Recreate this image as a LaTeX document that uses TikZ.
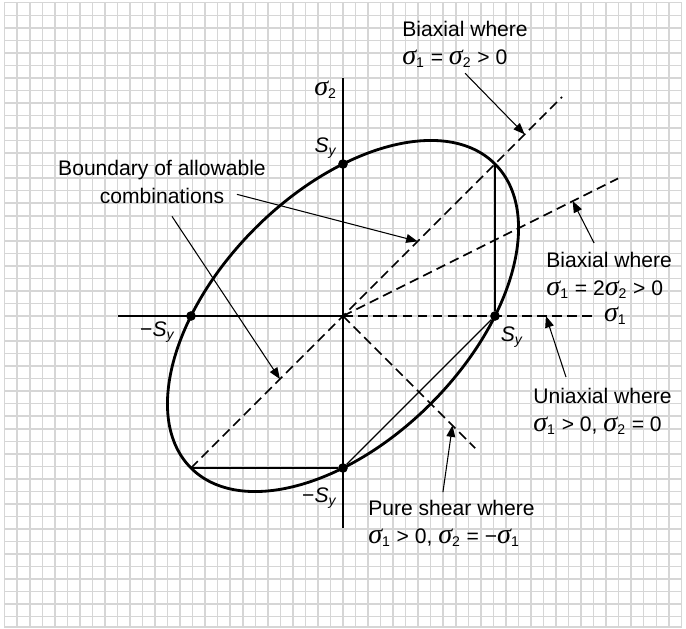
\documentclass[tikz,border=0pt]{standalone}
\usepackage{fontspec}
\setmainfont{Liberation Sans}
\newfontfamily\greekfont{Liberation Serif}
\usetikzlibrary{arrows.meta}
\newcommand{\sig}[1]{{\greekfont\itshape\fontsize{16}{16}\selectfont σ}\textsubscript{#1}}
\newcommand{\Sy}{\textit{S}\textsubscript{\textit{y}}}
\tikzset{
  gridln/.style={draw=black!16, line width=0.85pt},
  ax/.style={draw=black, line width=0.7pt},
  dsh/.style={draw=black, line width=0.9pt, dash pattern=on 5.5pt off 3pt},
  bdry/.style={draw=black, line width=1.6pt},
  edg/.style={draw=black, line width=1.1pt},
  lead/.style={draw=black, line width=0.6pt, -{Triangle[length=6.5pt,width=5pt]}},
  pt/.style={circle, fill=black, inner sep=0pt, minimum size=5.5pt},
  txt/.style={font=\fontsize{12}{16}\selectfont, inner sep=0pt, align=left},
  lbl/.style={font=\fontsize{12}{14}\selectfont, inner sep=1pt}
}

\begin{document}
\begin{tikzpicture}[x=3.04cm, y=3.04cm]
  % Graph paper
  \useasboundingbox (-6.86cm,-6.24cm) rectangle (6.86cm,6.32cm);
  \draw[gridln, step=0.2506cm] (-6.77cm,-6.22cm) grid (6.77cm,6.27cm);
  \draw[gridln] (-6.766cm,-6.22cm) rectangle (6.766cm,6.265cm);

  % Axes
  \coordinate (O) at (0,0);
  \coordinate (s1beg) at (-1.48,0);
  \coordinate (s1end) at (1.658,0);
  \coordinate (s2top) at (0,1.566);
  \coordinate (s2bot) at (0,-1.395);
  \draw[ax] (s1beg) -- (O);
  \draw[dsh] (O) -- (s1end);
  \draw[ax] (s2bot) -- (s2top);
  \node[lbl, anchor=west] (s1) at ([xshift=0.14cm]s1end) {\sig{1}};
  \node[lbl, anchor=north east] (s2) at ([xshift=-0.08cm,yshift=-0.02cm]s2top) {\sig{2}};

  % Yield points on the axes
  \node[pt, label={[lbl]above left:\Sy}] (syt) at (0,1) {};
  \node[pt, label={[lbl, xshift=-0.2cm]below left:−\Sy}] (syl) at (-1,0) {};
  \node[pt, label={[lbl, yshift=-0.1cm]below right:\Sy}] (syr) at (1,0) {};
  \node[pt, label={[lbl, yshift=-0.28cm]below left:−\Sy}] (syb) at (0,-1) {};

  % Boundary ellipse and edges
  \draw[bdry, rotate=45] (O) ellipse ({sqrt(2)} and {sqrt(2/3)});
  \coordinate (cA) at (1,1);
  \coordinate (cB) at (-1,-1);
  \draw[edg] (cA) -- (syr);
  \draw[edg] (cB) -- (syb);
  \draw[ax] (syb) -- (syr);

  % Load paths
  \coordinate (p11) at (1.441,1.441);
  \coordinate (p21) at (1.81,0.905);
  \coordinate (psh) at (0.87,-0.87);
  \draw[dsh] (cB) -- (p11);
  \draw[dsh] (O) -- (p21);
  \draw[dsh] (O) -- (psh);

  % Callout texts
  \node[txt, anchor=north west] (bax1) at (0.388,1.941) {Biaxial where\\\sig{1} = \sig{2} > 0};
  \node[txt, anchor=north west] (bax2) at (1.336,0.421) {Biaxial where\\\sig{1} = 2\sig{2} > 0};
  \node[txt, anchor=north west] (uni) at (1.25,-0.474) {Uniaxial where\\\sig{1} > 0, \sig{2} = 0};
  \node[txt, anchor=north west] (pshr) at (0.164,-1.211) {Pure shear where\\\sig{1} > 0, \sig{2} = −\sig{1}};
  \node[txt, align=center, anchor=north] (allow) at (-1.191,1.026) {Boundary of allowable\\combinations};

  % Arrow tips
  \coordinate (t1) at (1.195,1.195);
  \coordinate (t2) at (1.511,0.756);
  \coordinate (t3) at (1.335,0);
  \coordinate (t4) at (0.72,-0.72);
  \coordinate (t5) at (0.491,0.491);
  \coordinate (t6) at (-0.415,-0.415);

  % Leaders
  \draw[lead] ([yshift=-0.1cm]bax1.south) -- (t1);
  \draw[lead] ([xshift=0.96cm,yshift=0.18cm]bax2.north west) -- (t2);
  \draw[lead] ([xshift=0.66cm,yshift=0.22cm]uni.north west) -- (t3);
  \draw[lead] ([xshift=1.5cm,yshift=0.16cm]pshr.north west) -- (t4);
  \draw[lead] ([xshift=1.5cm,yshift=0.2cm]allow.south) -- (t5);
  \draw[lead] ([xshift=0.2cm,yshift=-0.24cm]allow.south) -- (t6);
\end{tikzpicture}
\end{document}
